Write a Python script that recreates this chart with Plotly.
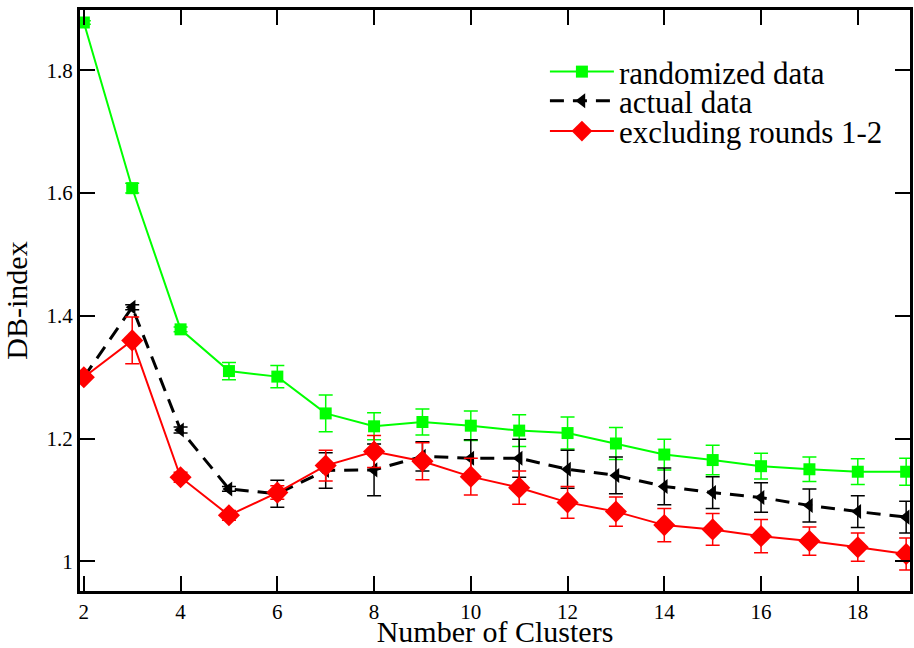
import plotly.graph_objects as go

clusters = list(range(2, 20))

randomized = [1.878, 1.608, 1.378, 1.310, 1.301, 1.241, 1.220, 1.227, 1.221, 1.213, 1.209,
              1.192, 1.174, 1.165, 1.155, 1.150, 1.146, 1.146]
randomized_err = [0.003, 0.008, 0.004, 0.014, 0.018, 0.030, 0.022, 0.021, 0.024, 0.026, 0.026,
                  0.026, 0.025, 0.024, 0.021, 0.020, 0.021, 0.022]

actual = [1.300, 1.414, 1.214, 1.118, 1.110, 1.148, 1.149, 1.171, 1.168, 1.168, 1.150,
          1.140, 1.122, 1.112, 1.104, 1.091, 1.081, 1.072]
actual_err = [0.004, 0.004, 0.005, 0.004, 0.022, 0.029, 0.042, 0.024, 0.030, 0.031, 0.031,
              0.030, 0.030, 0.026, 0.024, 0.027, 0.026, 0.026]

excluding = [1.300, 1.360, 1.137, 1.075, 1.112, 1.156, 1.179, 1.163, 1.138, 1.120, 1.096,
             1.081, 1.059, 1.052, 1.041, 1.033, 1.023, 1.012]
excluding_err = [0.005, 0.038, 0.008, 0.008, 0.011, 0.025, 0.026, 0.030, 0.030, 0.027, 0.026,
                 0.024, 0.027, 0.026, 0.027, 0.023, 0.023, 0.026]

x_ticks = [2, 4, 6, 8, 10, 12, 14, 16, 18]
y_ticks = [1, 1.2, 1.4, 1.6, 1.8]
y_ticktext = ["1", "1.2", "1.4", "1.6", "1.8"]

GREEN = "rgb(0,255,0)"
RED = "rgb(255,0,0)"
font_family = "Liberation Serif, Times New Roman, serif"

fig = go.Figure()
fig.add_trace(go.Scatter(
    x=clusters, y=randomized, name="randomized data", mode="lines+markers",
    line=dict(color=GREEN, width=2),
    marker=dict(symbol="square", size=12, color=GREEN),
    error_y=dict(type="data", array=randomized_err, color=GREEN, thickness=1.5, width=7),
    legend="legend",
))
fig.add_trace(go.Scatter(
    x=clusters, y=actual, name="actual data", mode="lines+markers",
    line=dict(color="black", width=3, dash="14px,9px"),
    marker=dict(symbol="triangle-left", size=13, color="black"),
    error_y=dict(type="data", array=actual_err, color="black", thickness=1.5, width=7),
    legend="legend2",
))
fig.add_trace(go.Scatter(
    x=clusters, y=excluding, name="excluding rounds 1-2", mode="lines+markers",
    line=dict(color=RED, width=2),
    marker=dict(symbol="diamond", size=17, color=RED),
    error_y=dict(type="data", array=excluding_err, color=RED, thickness=1.5, width=7),
    legend="legend3",
))

axis_common = dict(
    showline=True, linecolor="black", linewidth=2, mirror="allticks",
    ticks="inside", ticklen=16, tickwidth=1.5, tickcolor="black",
    showgrid=False, zeroline=False, automargin=False,
    tickfont=dict(family=font_family, size=21, color="black"),
)

def legend_box(ypos):
    return dict(x=0.560, y=ypos, xanchor="left", yanchor="middle",
                bgcolor="rgba(0,0,0,0)", borderwidth=0,
                font=dict(family=font_family, size=31, color="black"),
                itemwidth=64)

fig.update_layout(
    width=914, height=648, autosize=False,
    margin=dict(l=79, r=3, t=9, b=56, autoexpand=False),
    paper_bgcolor="white", plot_bgcolor="white",
    font=dict(family=font_family, color="black"),
    showlegend=True,
    legend=legend_box(0.892),
    legend2=legend_box(0.842),
    legend3=legend_box(0.790),
    xaxis=dict(range=[1.9, 19.1], tickvals=x_ticks,
               title=dict(text="Number of Clusters", font=dict(size=30), standoff=5),
               **axis_common),
    yaxis=dict(range=[0.95, 1.9], tickvals=y_ticks, ticktext=y_ticktext,
               title=dict(text="DB-index", font=dict(size=30), standoff=12),
               **axis_common),
    shapes=[dict(type="rect", xref="paper", yref="paper", x0=0, x1=1, y0=0, y1=1,
                 line=dict(color="black", width=2), fillcolor="rgba(0,0,0,0)", layer="above")],
)

fig.write_html("out.html", config={"displayModeBar": False, "responsive": False},
               post_script="document.body.style.margin='0';document.body.style.overflow='hidden';")
